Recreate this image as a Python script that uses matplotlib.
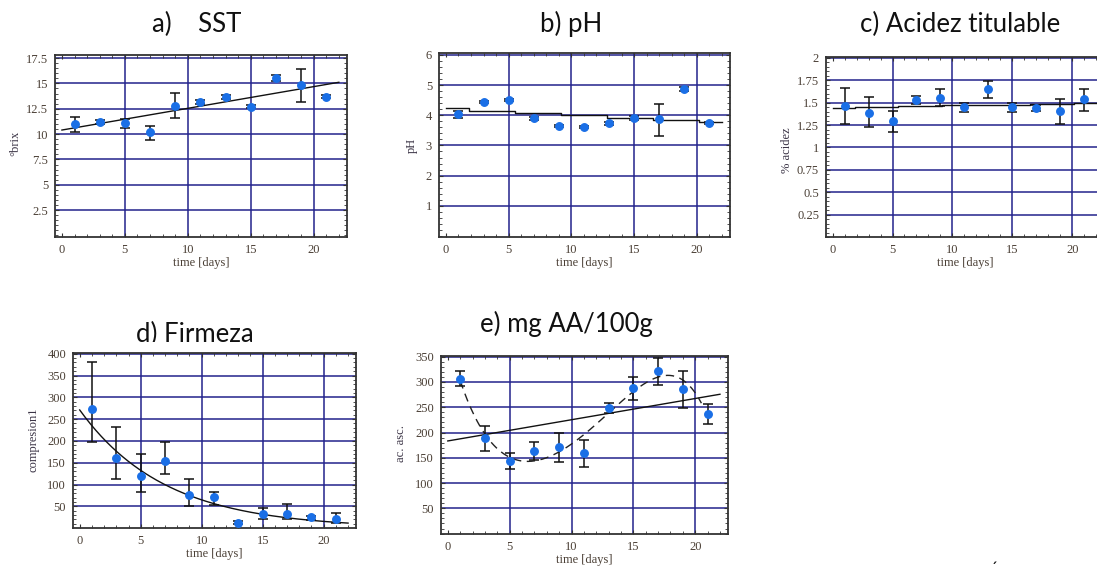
import numpy as np
import matplotlib
matplotlib.use("Agg")
import matplotlib.pyplot as plt
from matplotlib.ticker import FixedLocator, AutoMinorLocator, FixedFormatter
from matplotlib.transforms import Bbox, TransformedBbox

# ---- data -----------------------------------------------------------------
days = [1, 3, 5, 7, 9, 11, 13, 15, 17, 19, 21]

sst_mean = [10.95, 11.2, 11.1, 10.2, 12.8, 13.2, 13.7, 12.7, 15.55, 14.8, 13.7]
sst_low  = [10.2, 11.0, 10.6, 9.4, 11.6, 13.0, 13.5, 12.55, 15.25, 13.2, 13.55]
sst_high = [11.7, 11.4, 11.5, 10.8, 14.05, 13.4, 13.9, 12.85, 15.85, 16.4, 13.85]

ph_mean = [4.03, 4.45, 4.51, 3.9, 3.64, 3.6, 3.73, 3.9, 3.88, 4.87, 3.73]
ph_low  = [3.92, 4.42, 4.48, 3.85, 3.61, 3.57, 3.68, 3.84, 3.31, 4.79, 3.7]
ph_high = [4.14, 4.48, 4.54, 3.95, 3.67, 3.63, 3.78, 3.96, 4.37, 4.95, 3.76]

acid_mean = [1.46, 1.39, 1.29, 1.53, 1.55, 1.45, 1.65, 1.455, 1.44, 1.41, 1.54]
acid_low  = [1.26, 1.23, 1.17, 1.49, 1.46, 1.40, 1.555, 1.40, 1.41, 1.26, 1.41]
acid_high = [1.66, 1.56, 1.41, 1.57, 1.65, 1.50, 1.74, 1.50, 1.47, 1.54, 1.65]

firm_mean = [273, 162, 119, 155, 75, 71, 13, 32, 32, 25, 22]
firm_low  = [197, 113, 82, 125, 50, 54, 9, 22, 22, 18, 12]
firm_high = [380, 231, 171, 197, 113, 84, 17, 46, 56, 29, 35]

aa_mean = [306, 190, 144, 164, 172, 159, 248, 289, 322, 286, 237]
aa_low  = [292, 164, 128, 146, 141, 131, 238, 264, 294, 249, 217]
aa_high = [322, 212, 159, 181, 200, 185, 259, 309, 348, 322, 256]

# fitted models (intercept, slope) / (a, k) for y = a*exp(-k*t)
sst_fit = (10.4, 0.214)
ph_fit = (4.23, -0.021)
acid_fit = (1.437, 0.0029)
firm_fit = (271.0, 0.143)
aa_fit = (183.3, 4.2)

# ---- styling --------------------------------------------------------------
W, H = 1097, 569
GRID = "#23238c"
DOT = "#1a6fe6"
TICK_COLOR = "#4a3f35"
SERIF = "Liberation Serif"
TITLE_FONT = "Lato"
SMALL = 9

fig = plt.figure(figsize=(W / 100, H / 100), dpi=100)


def box(x0, y0, x1, y1):
    return [x0 / W, 1 - y1 / H, (x1 - x0) / W, (y1 - y0) / H]


def panel(rect, ylim, yticks, ylabels, mean, low, high):
    ax = fig.add_axes(rect)
    ax.set_xlim(-0.55, 22.65)
    ax.set_ylim(*ylim)
    ax.xaxis.set_major_locator(FixedLocator([0, 5, 10, 15, 20]))
    ax.yaxis.set_major_locator(FixedLocator(yticks))
    ax.yaxis.set_major_formatter(FixedFormatter(ylabels))
    ax.xaxis.set_minor_locator(AutoMinorLocator(5))
    ax.yaxis.set_minor_locator(AutoMinorLocator(5))
    ax.tick_params(which="both", direction="in", top=True, right=True,
                   colors="#333333", labelcolor=TICK_COLOR, labelsize=SMALL)
    ax.tick_params(which="major", length=3, width=0.8, pad=5)
    ax.tick_params(which="minor", length=2, width=0.6)
    for lab in ax.get_xticklabels() + ax.get_yticklabels():
        lab.set_fontfamily(SERIF)
    for s in ax.spines.values():
        s.set_color("#333333")
        s.set_linewidth(1.3)
    for t in [5, 10, 15, 20]:
        ax.axvline(t, color=GRID, lw=1.1, zorder=1)
    for v in yticks:
        ax.axhline(v, color=GRID, lw=1.1, zorder=1)
    m = np.asarray(mean, float)
    yerr = [m - np.asarray(low, float), np.asarray(high, float) - m]
    ax.errorbar(days, m, yerr=yerr, fmt="none", ecolor="#111111",
                elinewidth=1.1, capsize=3.5, capthick=1.1, zorder=3)
    ax.plot(days, m, "o", color=DOT, ms=5.4, mec=DOT, zorder=4)
    ax.set_xlabel("time [days]", fontfamily=SERIF, fontsize=SMALL,
                  color=TICK_COLOR, labelpad=1)
    return ax


def ylabel(text, x, y):
    fig.text(x / W, 1 - y / H, text, rotation=90, ha="center", va="center",
             fontfamily=SERIF, fontsize=SMALL, color="#3a3345")


def title(text, x, y, clip_y=None):
    t = fig.text(x / W, 1 - y / H, text, ha="center", va="center",
                 fontfamily=TITLE_FONT, fontsize=18.5, color="#111111")
    if clip_y is not None:
        t.set_clip_box(TransformedBbox(Bbox([[0, 1 - clip_y / H], [1, 1]]),
                                       fig.transFigure))
        t.set_clip_on(True)
    return t


t_line = np.linspace(0, 22, 200)
t_step = np.linspace(0, 22, 7)

# a) soluble solids
ax = panel(box(55, 55, 347, 237), (-0.15, 17.8),
           [2.5, 5, 7.5, 10, 12.5, 15, 17.5],
           ["2.5", "5", "7.5", "10", "12.5", "15", "17.5"],
           sst_mean, sst_low, sst_high)
ax.plot(t_line, sst_fit[0] + sst_fit[1] * t_line, color="#111111", lw=1.0, zorder=2)
ylabel("°brix", 15, 143)
title("a)    SST", 197, 24)

# b) pH
ax = panel(box(439, 53, 730, 237), (-0.03, 6.06),
           [1, 2, 3, 4, 5, 6], ["1", "2", "3", "4", "5", "6"],
           ph_mean, ph_low, ph_high)
ax.plot(t_step, ph_fit[0] + ph_fit[1] * t_step, color="#111111", lw=1.0,
        drawstyle="steps-mid", zorder=2)
ylabel("pH", 412, 145)
title("b) pH", 571, 24)

# c) titratable acidity
ax = panel(box(826, 57, 1104, 237), (0.0, 2.01),
           [0.25, 0.5, 0.75, 1, 1.25, 1.5, 1.75, 2],
           ["0.25", "0.5", "0.75", "1", "1.25", "1.5", "1.75", "2"],
           acid_mean, acid_low, acid_high)
ax.plot(t_step, acid_fit[0] + acid_fit[1] * t_step, color="#111111", lw=1.0,
        drawstyle="steps-mid", zorder=2)
ylabel("% acidez", 787, 150)
title("c) Acidez titulable", 960, 24)

# d) firmness
ax = panel(box(73, 353, 356, 528), (0.4, 401.6),
           [50, 100, 150, 200, 250, 300, 350, 400],
           ["50", "100", "150", "200", "250", "300", "350", "400"],
           firm_mean, firm_low, firm_high)
ax.plot(t_line, firm_fit[0] * np.exp(-firm_fit[1] * t_line),
        color="#111111", lw=1.0, zorder=2)
ylabel("compresion1", 33, 440)
title("d) Firmeza", 195, 334, clip_y=342)

# e) ascorbic acid
ax = panel(box(441, 356, 728, 534), (-0.8, 351.4),
           [50, 100, 150, 200, 250, 300, 350],
           ["50", "100", "150", "200", "250", "300", "350"],
           aa_mean, aa_low, aa_high)
ax.plot(t_line, aa_fit[0] + aa_fit[1] * t_line, color="#111111", lw=1.0, zorder=2)
poly = np.polyfit(days, aa_mean, 5)
t_dash = np.linspace(1, 20.5, 200)
ax.plot(t_dash, np.polyval(poly, t_dash), color="#222222", lw=1.0,
        dashes=(6, 4), zorder=2)
ylabel("ac. asc.", 401, 443)
title("e) mg AA/100g", 566, 324)

fig.text(994 / W, 1 - 561 / H, "´", ha="center", va="top",
         fontfamily=TITLE_FONT, fontsize=12, color="#111111")

fig.savefig("out.png", dpi=100)
